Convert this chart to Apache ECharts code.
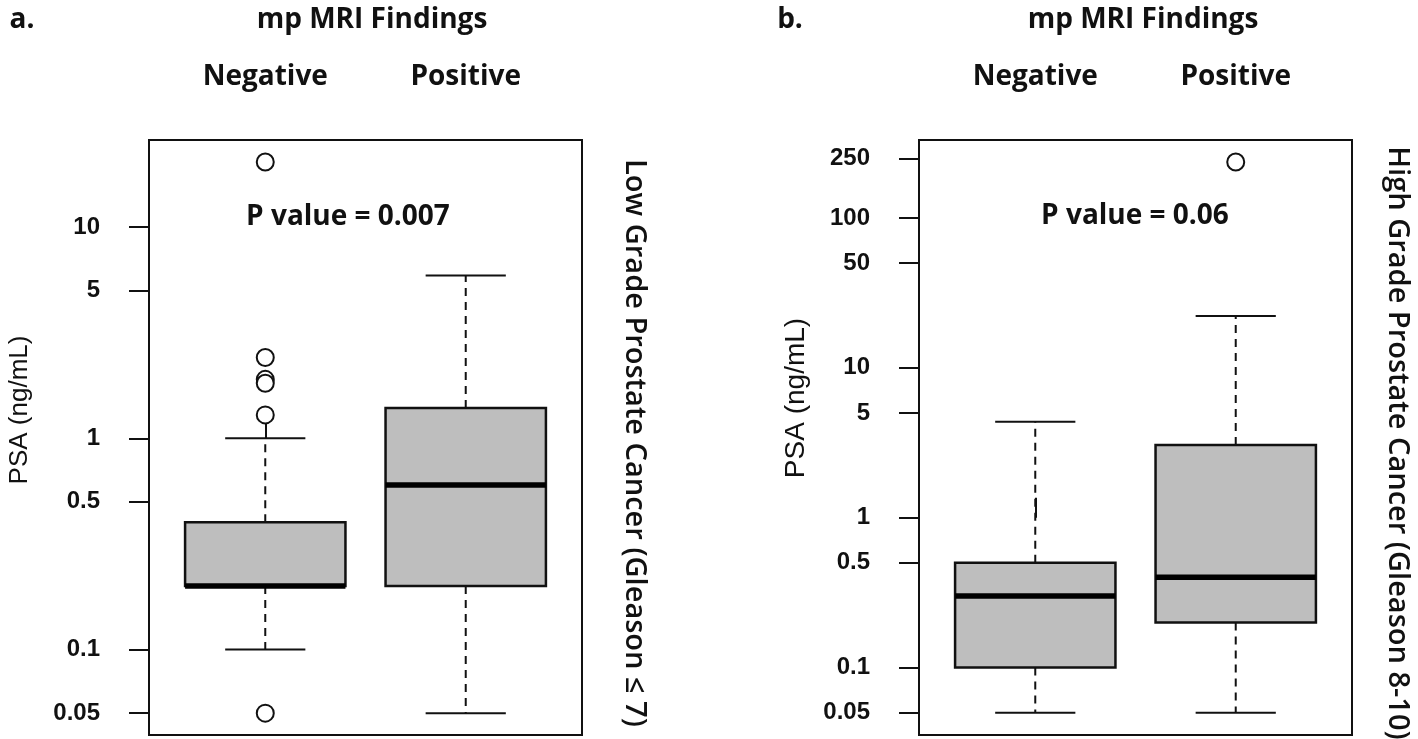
<!DOCTYPE html>
<html>
<head>
<meta charset="utf-8">
<script src="https://cdn.jsdelivr.net/npm/echarts@6/dist/echarts.min.js"></script>
<style>
html,body{margin:0;padding:0;background:#fff;}
#chart{width:1418px;height:739px;}
</style>
</head>
<body>
<div id="chart"></div>
<script>
// ---------- data ----------
const groups = ['Negative', 'Positive'];
const groupPositions = [1, 2];

// box statistics: [min whisker, Q1, median, Q3, max whisker] in ng/mL
const lowGradeNegative = [0.1, 0.2, 0.2, 0.4, 1.0];
const lowGradePositive = [0.05, 0.2, 0.6, 1.39, 5.9];
const highGradeNegative = [0.05, 0.1, 0.3, 0.5, 4.37];
const highGradePositive = [0.05, 0.2, 0.4, 3.05, 22.2];

// outliers (ng/mL)
const lowGradeOutliersNegative = [20.3, 2.41, 1.9, 1.82, 1.29, 0.05];
const lowGradeOutliersPositive = [];
const highGradeOutliersNegative = [];
const highGradeOutliersPositive = [236];

// axis tick labels (ng/mL)
const lowGradeTicks = [0.05, 0.1, 0.5, 1, 5, 10];
const highGradeTicks = [0.05, 0.1, 0.5, 1, 5, 10, 50, 100, 250];

// axis ranges (ng/mL)
const lowGradeRange = [0.0394, 25.8];
const highGradeRange = [0.0355, 331];

const pValueLow = 'P value = 0.007';
const pValueHigh = 'P value = 0.06';

// ---------- helpers ----------
const LOG = Math.log10;
const INK = '#111';
const BOX_W = 0.8, CAP_W = 0.4;

function fmtTick(v) {
  return String(+Math.pow(10, v).toPrecision(3));
}

function renderBox(params, api) {
  const x = api.value(0);
  const pLo = api.coord([x, api.value(1)]);
  const pQ1 = api.coord([x, api.value(2)]);
  const pMed = api.coord([x, api.value(3)]);
  const pQ3 = api.coord([x, api.value(4)]);
  const pHi = api.coord([x, api.value(5)]);
  const hb = api.size([BOX_W, 0])[0] / 2;
  const hc = api.size([CAP_W, 0])[0] / 2;
  const cx = pLo[0];
  const dash = {stroke: INK, lineWidth: 2, lineDash: [8, 6]};
  const solid = {stroke: INK, lineWidth: 2};
  return {
    type: 'group',
    children: [
      {type: 'line', shape: {x1: cx, y1: pQ3[1], x2: cx, y2: pHi[1]}, style: dash},
      {type: 'line', shape: {x1: cx, y1: pQ1[1], x2: cx, y2: pLo[1]}, style: dash},
      {type: 'line', shape: {x1: cx - hc, y1: pHi[1], x2: cx + hc, y2: pHi[1]}, style: solid},
      {type: 'line', shape: {x1: cx - hc, y1: pLo[1], x2: cx + hc, y2: pLo[1]}, style: solid},
      {type: 'rect', shape: {x: cx - hb, y: pQ3[1], width: 2 * hb, height: pQ1[1] - pQ3[1]},
        style: {fill: '#bebebe', stroke: INK, lineWidth: 2.5}},
      {type: 'line', shape: {x1: cx - hb, y1: pMed[1], x2: cx + hb, y2: pMed[1]},
        style: {stroke: '#000', lineWidth: 5.5}}
    ]
  };
}

function panel(idx, left, stats, outliers, ticks, range) {
  const tickVals = ticks.map(LOG);
  const grid = {left: left, top: 140, width: 433, height: 595, show: true,
    borderColor: INK, borderWidth: 2, backgroundColor: 'transparent'};
  const xAxis = {
    gridIndex: idx, type: 'value', position: 'top', min: 0.42, max: 2.58,
    splitLine: {show: false}, axisLine: {show: false},
    axisTick: {show: true, length: 20, customValues: groupPositions, lineStyle: {color: INK, width: 2}},
    axisLabel: {customValues: groupPositions, formatter: v => groups[Math.round(v) - 1],
      margin: 49, fontFamily: 'Open Sans', fontWeight: 'bold', fontSize: 28, color: '#111'}
  };
  const yAxis = {
    gridIndex: idx, type: 'value', min: LOG(range[0]), max: LOG(range[1]),
    splitLine: {show: false},
    axisLine: {show: true, lineStyle: {color: INK, width: 2}},
    axisTick: {show: true, length: 20, customValues: tickVals, lineStyle: {color: INK, width: 2}},
    axisLabel: {customValues: tickVals, formatter: fmtTick, margin: 49,
      fontFamily: 'Liberation Sans', fontWeight: 'bold', fontSize: 24, color: '#111'}
  };
  const boxData = stats.map((s, i) => [groupPositions[i]].concat(s.map(LOG)));
  const outData = [];
  outliers.forEach((arr, i) => arr.forEach(v => outData.push([groupPositions[i], LOG(v)])));
  const series = [
    {type: 'custom', xAxisIndex: idx, yAxisIndex: idx, renderItem: renderBox,
      encode: {x: 0, y: [1, 2, 3, 4, 5]}, data: boxData, silent: true, z: 2},
    {type: 'scatter', xAxisIndex: idx, yAxisIndex: idx, symbol: 'emptyCircle', symbolSize: 17,
      itemStyle: {color: INK, borderWidth: 2.2, opacity: 1}, data: outData, silent: true, z: 3}
  ];
  return {grid, xAxis, yAxis, series};
}

const pA = panel(0, 149, [lowGradeNegative, lowGradePositive],
  [lowGradeOutliersNegative, lowGradeOutliersPositive], lowGradeTicks, lowGradeRange);
const pB = panel(1, 919, [highGradeNegative, highGradePositive],
  [highGradeOutliersNegative, highGradeOutliersPositive], highGradeTicks, highGradeRange);

function txt(text, x, y, font, opts) {
  return Object.assign({type: 'text', x: x, y: y, silent: true,
    style: {text: text, font: font, fill: '#111', align: 'center', verticalAlign: 'middle'}}, opts || {});
}
const titleFont = 'bold 28px "Open Sans"';
const sideFont = '600 29px "Open Sans"';

const graphics = [
  txt('a.', 22, 20, titleFont),
  txt('mp MRI Findings', 372, 20, titleFont),
  txt(pValueLow, 348, 217, titleFont),
  txt('PSA (ng/mL)', 20, 410, '26px "Liberation Sans"', {rotation: Math.PI / 2}),
  txt('Low Grade Prostate Cancer (Gleason ≤ 7)', 634, 443, sideFont, {rotation: -Math.PI / 2}),
  txt('b.', 790, 20, titleFont),
  txt('mp MRI Findings', 1143, 20, titleFont),
  txt(pValueHigh, 1135, 216, titleFont),
  txt('PSA (ng/mL)', 796, 398, '28px "Liberation Sans"', {rotation: Math.PI / 2}),
  txt('High Grade Prostate Cancer (Gleason 8-10)', 1397, 443, sideFont, {rotation: -Math.PI / 2})
];

const chart = echarts.init(document.getElementById('chart'), null, {renderer: 'canvas'});
chart.setOption({
  animation: false,
  backgroundColor: '#fff',
  grid: [pA.grid, pB.grid],
  xAxis: [pA.xAxis, pB.xAxis],
  yAxis: [pA.yAxis, pB.yAxis],
  series: pA.series.concat(pB.series),
  graphic: graphics
});
</script>
</body>
</html>
